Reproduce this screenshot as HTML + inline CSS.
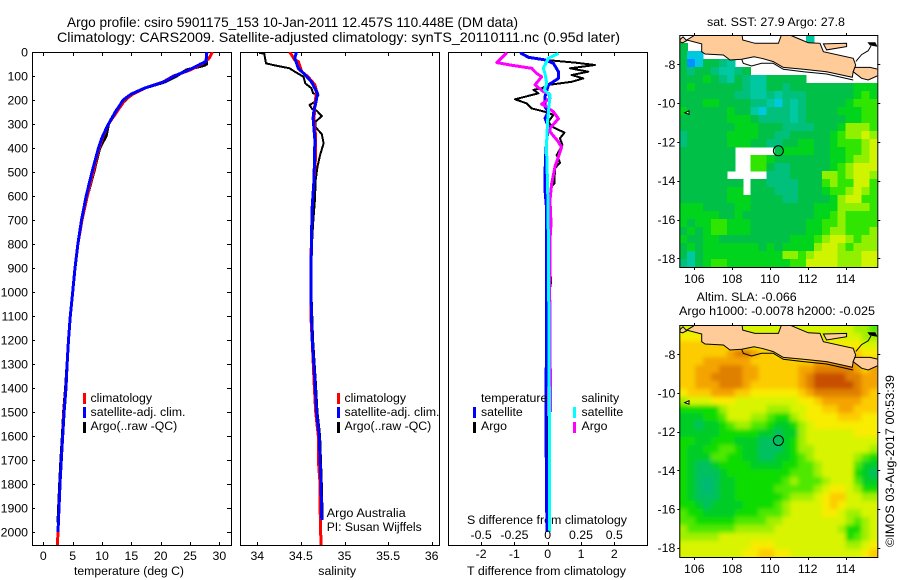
<!DOCTYPE html>
<html lang="en">
<head>
<meta charset="utf-8">
<title>Argo profile csiro 5901175_153</title>
<style>
html,body{margin:0;padding:0;background:#fff;width:900px;height:580px;overflow:hidden}
svg{display:block}
text{font-family:"Liberation Sans",sans-serif;font-size:12.3px;fill:#000}
</style>
</head>
<body>
<svg id="fig" xmlns="http://www.w3.org/2000/svg" width="900" height="580" viewBox="0 0 900 580">
  <defs>
    <filter id="smooth" x="-5%" y="-5%" width="110%" height="110%"><feGaussianBlur stdDeviation="2"/></filter>
  </defs>
  <rect x="0" y="0" width="900" height="580" fill="#fff"/>
  <text x="67" y="27" style="font-size:14px" textLength="451" lengthAdjust="spacingAndGlyphs">Argo profile: csiro 5901175_153 10-Jan-2011 12.457S 110.448E (DM data)</text>
  <text x="57" y="42" style="font-size:14px" textLength="563" lengthAdjust="spacingAndGlyphs">Climatology: CARS2009. Satellite-adjusted climatology: synTS_20110111.nc (0.95d later)</text>

  <text x="74" y="575" textLength="110" lengthAdjust="spacingAndGlyphs">temperature (deg C)</text>
  <text x="318.3" y="575" textLength="37.7" lengthAdjust="spacingAndGlyphs">salinity</text>
  <text x="467" y="575" textLength="159" lengthAdjust="spacingAndGlyphs">T difference from climatology</text>
  <text x="467" y="524" textLength="160" lengthAdjust="spacingAndGlyphs">S difference from climatology</text>

  <g id="panels"></g>
  <g id="maps"></g>

  <g>
    <rect x="83" y="393" width="3" height="11" fill="#f00"/>
    <rect x="83" y="407" width="3" height="11" fill="#00f"/>
    <rect x="83" y="422" width="3" height="11" fill="#000"/>
    <text x="90.5" y="402">climatology</text>
    <text x="90.5" y="416" textLength="95" lengthAdjust="spacingAndGlyphs">satellite-adj. clim.</text>
    <text x="90.5" y="430">Argo(..raw -QC)</text>
  </g>
  <g>
    <rect x="337" y="393" width="3" height="11" fill="#f00"/>
    <rect x="337" y="407" width="3" height="11" fill="#00f"/>
    <rect x="337" y="422" width="3" height="11" fill="#000"/>
    <text x="344.5" y="402">climatology</text>
    <text x="344.5" y="416" textLength="95" lengthAdjust="spacingAndGlyphs">satellite-adj. clim.</text>
    <text x="344.5" y="430">Argo(..raw -QC)</text>
    <text x="326.7" y="517" textLength="79" lengthAdjust="spacingAndGlyphs">Argo Australia</text>
    <text x="326.7" y="531" textLength="95" lengthAdjust="spacingAndGlyphs">PI: Susan Wijffels</text>
  </g>
  <g>
    <text x="481" y="402">temperature</text>
    <rect x="473" y="407" width="3" height="11" fill="#00f"/>
    <rect x="473" y="422" width="3" height="11" fill="#000"/>
    <text x="481" y="416">satellite</text>
    <text x="481" y="430">Argo</text>
    <text x="581.5" y="402">salinity</text>
    <rect x="573" y="407" width="3" height="11" fill="#0ff"/>
    <rect x="573" y="422" width="3" height="11" fill="#f0f"/>
    <text x="581.5" y="416">satellite</text>
    <text x="581.5" y="430">Argo</text>
  </g>

  <text x="707" y="26" textLength="138" lengthAdjust="spacingAndGlyphs">sat. SST: 27.9 Argo: 27.8</text>
  <text x="696.7" y="301" textLength="100" lengthAdjust="spacingAndGlyphs">Altim. SLA: -0.066</text>
  <text x="679" y="315" textLength="196" lengthAdjust="spacingAndGlyphs">Argo h1000: -0.0078 h2000: -0.025</text>
  <text transform="translate(894,547) rotate(-90)" textLength="172" lengthAdjust="spacingAndGlyphs">©IMOS 03-Aug-2017 00:53:39</text>
</svg>

<script>
/* ---------- profile data ---------- */
const stdDepth = [0,10,20,30,50,75,100,125,150,175,200,250,300,350,400,500,600,700,800,900,1000,1100,1200,1300,1400,1500,1600,1700,1800,1900,2000,2054];
const tempClim = [28.8,28.6,28.4,28.1,27.0,25.0,22.2,20.4,17.3,15.3,13.9,12.5,11.1,10.2,9.5,8.5,7.5,6.6,5.9,5.4,5.0,4.6,4.3,4.05,3.87,3.5,3.3,3.07,2.85,2.67,2.5,2.4];
const tempSatDepth = [0,10,20,40,50,75,100,125,150,175,200,250,300,350,400,500,600,700,800,900,1000,1100,1200,1300,1400,1500,1600,1700,1800,1900,2000];
const tempSat = [27.9,27.8,27.8,27.7,26.8,24.8,22.3,20.5,17.3,15.0,13.6,12.3,11.1,10.1,9.4,8.3,7.3,6.5,5.9,5.4,5.0,4.6,4.3,4.05,3.87,3.55,3.3,3.07,2.85,2.67,2.5];
const tempArgoDepth = [0,50,55,75,100,125,150,175,200,240,300,350,400,500,600,700,800,900,1000,1100,1200,1300,1400,1500,1600,1700,1800,1900,1960];
const tempArgo = [27.8,27.8,27.5,24.4,22.7,20.7,17.3,15.0,14.0,12.5,11.1,10.7,9.6,8.6,7.5,6.6,5.9,5.4,5.0,4.6,4.3,4.05,3.8,3.45,3.25,3.0,2.8,2.6,2.5];

const salClimDepth = [0,33,40,82,103,137,165,214,283,353,429,533,644,783,900,1100,1200,1367,1500,1600,1700,1800,1900,2054];
const salClim = [34.37,34.43,34.47,34.51,34.58,34.66,34.68,34.66,34.65,34.67,34.67,34.65,34.63,34.62,34.615,34.615,34.63,34.65,34.67,34.70,34.70,34.72,34.72,34.73];
const salSatDepth = [0,26,68,96,124,172,214,242,276,367,533,644,783,1000,1200,1367,1500,1600,1800,1950];
const salSat = [34.45,34.43,34.47,34.55,34.62,34.69,34.67,34.65,34.64,34.66,34.65,34.63,34.62,34.615,34.63,34.66,34.68,34.71,34.73,34.74];
const salArgoDepth = [3,8,47,54,68,82,103,131,151,172,179,207,221,238,244,267,290,314,342,381,429,478,533,617,714,783,900,1000,1200,1367,1500,1600,1800,1950];
const salArgo = [34.02,34.08,34.10,34.18,34.37,34.43,34.53,34.55,34.62,34.64,34.70,34.66,34.60,34.63,34.68,34.74,34.67,34.67,34.74,34.76,34.72,34.69,34.67,34.66,34.64,34.63,34.62,34.62,34.64,34.67,34.69,34.72,34.74,34.75];

const dtArgoDepth = [3,26,33,44,54,68,82,96,110,124,137,151,158,172,197,214,235,249,262,290,311,336,360,388,429,461,485,547,561,644,783,900,960,1000,1300,1370,1500,1520,1850,1950];
const dtArgo = [-0.83,-0.48,-0.08,0.82,1.42,0.67,1.22,0.72,1.07,0.72,0.02,-0.18,-0.43,-0.28,-0.98,-0.63,-0.48,-0.08,0.17,0.02,0.12,0.5,0.37,0.44,0.27,0.37,0.22,0.2,0.1,0.02,0,0.08,0.1,0.05,-0.02,-0.06,-0.06,-0.02,-0.03,-0.01];
const dtSatDepth = [3,22,33,47,82,110,137,186,228,249,276,311,367,429,506,575,644,783,1000,1500,1800,2000];
const dtSat = [-0.83,-0.58,-0.08,0.17,0.32,0.32,0.02,-0.08,-0.08,0.02,-0.08,0.02,-0.03,-0.06,-0.08,-0.08,-0.04,-0.03,-0.03,-0.05,-0.04,-0.02];
const dsArgoDepth = [3,44,54,68,89,103,137,165,172,193,217,228,249,278,318,332,374,381,396,478,547,617,714,783,1000,1400,1500];
const dsArgo = [-0.3075,-0.3825,-0.2825,-0.12,-0.0825,-0.045,-0.095,-0.0325,0.005,0.0175,-0.045,-0.0075,0.0425,0.08,0.0175,0.0175,0.08,0.085,0.105,0.055,0.03,0.0175,0.025,0.0175,0.015,0.02,0.02];
const dsSatDepth = [6,26,68,89,131,158,179,228,283,367,425,575,783,1000,1500,2000];
const dsSat = [0.08,0.005,-0.033,-0.02,-0.0075,-0.025,0.0175,0.01,0,-0.0075,-0.0075,0,0.005,0.0075,0.0125,0.0125];

const depthTicks = [0,100,200,300,400,500,600,700,800,900,1000,1100,1200,1300,1400,1500,1600,1700,1800,1900,2000];
const tempTicks = [0,5,10,15,20,25,30];
const salTicks = [34,34.5,35,35.5,36];
const dtTicks = [-2,-1,0,1,2];
const dsTicks = [-0.5,-0.25,0,0.25,0.5];
const lonTicks = [106,108,110,112,114];
const latTicks = [-8,-10,-12,-14,-16,-18];
const floatLon = 110.448;
const floatLat = -12.457;

/* ---------- map data: colour level per cell, north to south; _ = no data ---------- */
const _ = null;
const sstGrid = [
[_,_,_,_,_,_,_,_,_,_,_,_,_,_,_,_,2,_,_,_,_,_,_,_,_],
[4,_,_,_,_,_,_,_,_,_,_,_,_,_,_,_,_,_,_,_,_,_,_,_,_],
[4,1,1,_,_,_,_,_,_,_,_,_,_,_,_,_,_,_,_,_,_,_,_,_,_],
[4,0,1,4,4,3,2,_,_,_,_,_,_,_,_,_,_,_,_,_,_,_,_,_,_],
[4,3,4,4,3,2,2,3,4,_,_,_,_,_,_,_,_,_,_,_,_,_,_,_,_],
[4,4,4,5,4,3,2,4,3,2,2,4,4,4,4,4,_,_,_,_,_,_,_,_,_],
[4,5,4,4,4,4,4,4,3,2,2,4,4,3,4,4,4,4,4,4,4,4,5,5,5],
[4,4,4,4,4,4,4,3,3,2,2,3,2,3,3,3,4,4,4,4,4,4,5,6,5],
[4,4,4,5,5,4,4,4,4,3,3,2,1,3,2,3,4,4,4,4,4,5,6,6,6],
[5,4,4,4,4,4,5,4,4,2,1,3,3,3,2,3,4,4,4,4,5,5,5,6,6],
[4,4,4,4,4,4,5,5,5,4,3,3,3,3,2,3,4,4,4,4,4,5,5,6,6],
[4,4,4,4,4,4,4,5,5,5,4,4,4,3,3,3,3,4,4,4,5,7,7,7,6],
[3,4,4,4,4,4,5,5,5,5,4,4,3,3,4,4,4,4,4,5,6,7,7,8,7],
[3,4,4,4,4,4,5,5,5,4,4,3,3,4,4,5,5,4,4,5,6,6,6,7,8],
[4,4,4,4,4,4,4,_,_,_,_,_,4,5,5,5,5,4,4,5,5,6,6,7,8],
[4,4,4,4,4,4,4,_,_,6,6,5,4,4,4,4,4,4,4,5,5,6,7,7,8],
[4,4,4,4,4,4,4,_,_,6,6,4,3,3,4,4,4,4,4,5,6,7,8,8,8],
[4,4,4,4,4,4,_,_,_,_,_,3,3,3,4,4,4,4,7,7,6,7,8,8,7],
[4,4,4,4,4,4,4,4,_,4,4,3,3,3,3,4,4,4,6,7,6,6,8,8,6],
[4,4,4,4,4,4,5,5,_,4,4,4,3,3,3,4,4,4,5,6,6,7,8,7,6],
[4,4,4,4,4,4,5,5,5,4,4,4,4,3,3,4,4,4,4,5,7,8,8,6,6],
[5,5,5,4,4,4,4,5,5,4,4,4,4,4,4,4,4,5,5,5,7,7,7,7,6],
[5,5,5,5,5,4,4,5,4,4,4,4,4,4,4,4,4,5,5,6,7,6,6,6,6],
[5,4,5,5,6,6,5,5,5,4,4,4,4,4,4,4,5,5,6,6,7,6,6,6,6],
[4,5,4,5,6,6,5,5,5,4,4,4,4,4,4,4,5,5,6,7,7,6,6,6,7],
[5,4,4,5,5,4,4,4,4,4,4,4,4,4,5,5,5,6,7,8,8,7,6,7,7],
[4,5,4,5,5,5,5,5,5,5,4,5,4,5,5,5,5,7,8,8,7,6,7,7,7],
[4,2,4,5,5,5,5,5,5,5,5,5,5,7,7,6,7,8,8,8,7,7,7,8,8],
[3,2,4,5,6,6,5,5,5,5,5,5,5,5,6,6,8,8,8,8,7,7,7,8,8]
];
const slaGrid = [
[8,8,8,8,8,8,8,8,8,8,8,8,8,8,8,8,8,8,8,8,8,8,7,7,6],
[9,9,9,9,9,9,8,8,8,8,8,8,8,8,8,8,8,8,8,8,8,8,8,7,7],
[10,10,10,10,10,10,9,9,9,9,9,9,9,9,9,9,9,9,9,9,9,9,9,8,8],
[10,10,10,10,10,10,11,12,12,11,10,10,9,9,9,9,10,10,10,10,10,10,10,9,9],
[10,10,10,11,11,11,11,11,11,10,10,10,10,10,10,10,10,11,11,11,11,11,11,10,10],
[10,10,11,11,11,12,12,12,11,11,10,10,10,10,10,11,11,12,12,12,12,12,11,10,11],
[10,10,11,11,12,12,12,12,11,11,10,10,10,10,10,11,12,13,13,13,13,12,12,11,11],
[10,10,11,11,11,12,12,12,11,10,10,10,10,10,10,11,12,13,13,13,13,13,12,11,11],
[9,10,10,10,11,11,11,10,10,9,9,9,9,9,9,10,11,12,12,12,12,12,12,11,10],
[7,8,8,8,9,9,9,8,8,8,8,8,8,8,8,9,9,10,11,11,11,11,11,10,10],
[5,5,5,5,5,7,8,8,8,8,8,7,7,7,8,8,9,9,10,10,11,11,10,10,10],
[4,4,4,5,5,6,8,8,8,7,7,6,5,5,7,8,9,9,9,9,10,10,10,9,9],
[4,4,3,4,4,5,6,7,7,6,6,5,4,4,5,7,8,9,9,9,9,9,9,9,9],
[4,4,4,4,4,5,5,5,5,5,4,4,3,4,4,7,8,8,8,8,8,8,9,9,9],
[5,5,4,4,5,5,5,4,4,4,3,3,3,4,5,7,8,8,8,8,8,8,8,8,8],
[5,4,4,5,5,6,6,5,4,4,3,3,3,4,5,7,7,8,8,8,8,8,8,8,7],
[5,4,4,4,6,6,5,5,4,4,3,3,4,4,5,6,7,8,8,8,8,8,7,6,5],
[5,4,3,3,4,5,5,5,5,4,4,4,4,5,5,6,6,7,8,8,8,8,6,4,4],
[5,4,3,3,3,4,5,5,5,5,5,5,5,5,6,6,6,7,8,8,8,8,5,4,3],
[5,4,3,2,3,4,4,5,5,5,5,5,5,6,7,6,6,6,7,8,8,8,6,4,4],
[5,4,3,2,3,4,4,5,5,5,5,5,6,6,6,6,6,7,8,9,9,8,7,5,5],
[5,4,3,3,3,4,4,5,5,5,5,5,5,6,7,7,7,8,9,10,10,8,8,7,7],
[5,5,4,3,4,4,4,4,5,5,5,5,6,7,8,8,8,8,9,10,9,8,8,8,8],
[6,5,5,4,4,4,4,5,5,5,6,6,6,7,8,8,8,8,9,9,8,7,7,8,8],
[6,6,5,5,5,5,5,6,6,6,6,7,7,8,8,8,8,8,8,8,8,7,6,7,8],
[7,6,6,6,6,6,6,7,7,7,7,7,8,8,8,8,8,8,8,8,7,5,5,7,8],
[7,7,7,7,7,8,8,8,8,8,8,8,8,8,8,8,8,8,8,8,8,5,6,7,8],
[8,8,8,8,8,8,8,8,8,9,9,9,8,8,8,8,8,8,8,8,8,7,7,8,9],
[8,8,8,8,8,8,8,8,9,9,10,10,9,9,8,8,8,8,8,8,8,8,8,9,10]
];
const javaLon = [105.60,105.95,106.04,108.51,108.56,109.21,110.45,110.68,111.06,111.68,112.03,112.65,112.83,114.41,114.54,114.41,114.36,113.0,111.77,110.71,110.18,109.56,109.16,108.51,107.89,107.54,106.57,106.39,106.39];
const javaLat = [-6.75,-6.54,-6.3,-6.3,-6.75,-6.92,-6.92,-6.3,-6.49,-6.75,-6.89,-6.92,-7.35,-7.69,-8.04,-8.38,-8.67,-8.38,-8.26,-8.16,-7.86,-7.69,-7.61,-7.74,-7.78,-7.52,-7.47,-7.35,-6.95];
const baliLon = [114.50,115.3,115.9,115.9,115.2,114.85,114.41];
const baliLat = [-8.16,-8.16,-8.3,-8.5,-8.81,-8.72,-8.38];
const maduraLon = [112.83,114.06,114.06,113.0];
const maduraLat = [-6.95,-6.92,-7.09,-7.26];
const shelfLon = [108.51,108.59,109.03,109.56,110.18,110.71,111.77,113.0,114.41];
const shelfLat = [-7.74,-7.95,-8.09,-7.95,-7.95,-8.26,-8.38,-8.50,-8.81];
const eastCoastLon = [114.55,114.85,115.2,115.35];
const eastCoastLat = [-7.85,-7.5,-7.3,-7.05];
const islandLon = [105.5,105.72,105.72];
const islandLat = [-10.5,-10.4,-10.58];
const nwCoastLon = [105.25,105.4,105.6,105.38,105.25];
const nwCoastLat = [-6.72,-6.58,-6.78,-6.89,-6.85];
const neIslandLon = [115.21,115.56,115.65,115.3];
const neIslandLat = [-6.89,-6.89,-7.06,-7.0];

const sstColors = ['#0090ff','#00c8e0','#00c8a0','#00c07c','#00c048','#00d41c','#30e600','#90f000','#d0f400','#f0f000','#fcd000','#f4a800','#e08400','#cc5400'];
const slaColors = ['#0090ff','#00c8e0','#00b878','#00c060','#00cc28','#10dc00','#50e800','#a0f000','#d8f400','#f8ec00','#fccc00','#f4a400','#e08000','#c85000'];

/* ---------- helpers ---------- */
const NS = 'http://www.w3.org/2000/svg';
function mk(parent, tag, props, name) {
  const el = document.createElementNS(NS, tag);
  for (const k in props) el.setAttribute(k, props[k]);
  
  
  parent.appendChild(el);
  return el;
}
function label(parent, x, y, str, anchor, name) {
  const el = mk(parent, 'text', {x: x, y: y, 'text-anchor': anchor}, name);
  el.textContent = str;
  return el;
}
function pathOf(xs, ys, fx, fy) {
  return xs.map((v, i) => (i ? 'L' : 'M') + fx(v).toFixed(1) + ' ' + fy(ys[i]).toFixed(1)).join('');
}

/* ---------- profile panels ---------- */
const TOP = 52, BOTTOM = 545;
const yDepth = d => TOP + d * 0.24;
const xTemp = t => 43.3 + 5.87 * t;
const xSal = s => 257.3 + 87.2 * (s - 34);
const xDT = t => 547.7 + 33.3 * t;
const xDS = s => 547.7 + 133.2 * s;
const panels = document.getElementById('panels');

function series(parent, depth, vals, fx, color, width, name, clip) {
  const el = mk(parent, 'path', {
    d: pathOf(vals, depth, fx, yDepth), fill: 'none', stroke: color,
    'stroke-width': width, 'stroke-linejoin': 'round',
    'shape-rendering': 'crispEdges',
    'clip-path': 'url(#' + clip + ')'
  }, name);
  return el;
}
function frame(parent, x0, x1, clipId, name) {
  const defs = mk(parent, 'defs', {}, name + '-defs');
  const cp = mk(defs, 'clipPath', {id: clipId}, name + '-clip');
  mk(cp, 'rect', {x: x0, y: TOP, width: x1 - x0, height: BOTTOM - TOP}, name + '-clip-rect');
  return mk(parent, 'rect', {x: x0 + .5, y: TOP + .5, width: x1 - x0, height: BOTTOM - TOP, fill: 'none', stroke: '#000', 'stroke-width': 1}, name + '-frame');
}
function vTick(parent, x, name) {
  const px = Math.round(x) + .5;
  mk(parent, 'line', {x1: px, x2: px, y1: TOP, y2: TOP + 4, stroke: '#000'}, name + '-top');
  mk(parent, 'line', {x1: px, x2: px, y1: BOTTOM, y2: BOTTOM - 3, stroke: '#000'}, name + '-bottom');
}

/* temperature */
const p1 = mk(panels, 'g', {}, 'temperature-panel');
frame(p1, 32, 231, 'clipT', 'temperature-panel');
series(p1, tempArgoDepth, tempArgo, xTemp, '#000', 3, 'temperature-argo-line', 'clipT');
series(p1, stdDepth, tempClim, xTemp, '#f00', 3, 'temperature-climatology-line', 'clipT');
series(p1, tempSatDepth, tempSat, xTemp, '#00f', 3, 'temperature-satellite-line', 'clipT');
tempTicks.forEach(t => {
  vTick(p1, xTemp(t), 'temperature-tick');
  label(p1, xTemp(t), 560, String(t), 'middle', 'temperature-tick-label');
});
depthTicks.forEach(d => {
  const py = Math.round(yDepth(d)) + .5;
  mk(p1, 'line', {x1: 32, x2: 35, y1: py, y2: py, stroke: '#000'}, 'depth-tick-left');
  mk(p1, 'line', {x1: 231, x2: 227, y1: py, y2: py, stroke: '#000'}, 'depth-tick-right');
  label(p1, 28, yDepth(d) + 4.5, String(d), 'end', 'depth-tick-label');
});

/* salinity */
const p2 = mk(panels, 'g', {}, 'salinity-panel');
frame(p2, 240, 439, 'clipS', 'salinity-panel');
series(p2, salArgoDepth, salArgo, xSal, '#000', 2, 'salinity-argo-line', 'clipS');
series(p2, salClimDepth, salClim, xSal, '#f00', 3, 'salinity-climatology-line', 'clipS');
series(p2, salSatDepth, salSat, xSal, '#00f', 3, 'salinity-satellite-line', 'clipS');
salTicks.forEach(s => {
  vTick(p2, xSal(s), 'salinity-tick');
  label(p2, xSal(s), 560, String(s), 'middle', 'salinity-tick-label');
});

/* differences */
const p3 = mk(panels, 'g', {}, 'difference-panel');
frame(p3, 448, 647, 'clipD', 'difference-panel');
series(p3, dtArgoDepth, dtArgo, xDT, '#000', 2, 't-difference-argo-line', 'clipD');
series(p3, dtSatDepth, dtSat, xDT, '#00f', 3, 't-difference-satellite-line', 'clipD');
series(p3, dsArgoDepth, dsArgo, xDS, '#f0f', 3, 's-difference-argo-line', 'clipD');
series(p3, dsSatDepth, dsSat, xDS, '#0ff', 3, 's-difference-satellite-line', 'clipD');
dtTicks.forEach(t => {
  vTick(p3, xDT(t), 't-difference-tick');
  label(p3, xDT(t), 558, String(t), 'middle', 't-difference-tick-label');
});
dsTicks.forEach(s => {
  label(p3, xDS(s), 539, String(s), 'middle', 's-difference-tick-label');
});

/* ---------- maps ---------- */
const maps = document.getElementById('maps');
function drawMap(grid, colors, x0, y0, lat8Y, lat18Y, prefix, clipId, smooth) {
  const W = 198, H = 232;
  const g = mk(maps, 'g', {}, prefix + '-map');
  const xLon = lon => 694.3 + 18.9 * (lon - 106);
  const yLat = lat => lat8Y + (lat18Y - lat8Y) * (lat + 8) / -10;
  const defs = mk(g, 'defs', {}, prefix + '-map-defs');
  const cp = mk(defs, 'clipPath', {id: clipId}, prefix + '-map-clip');
  mk(cp, 'rect', {x: x0, y: y0, width: W, height: H}, prefix + '-map-clip-rect');

  const nc = grid[0].length, nr = grid.length;
  const cw = W / nc, ch = H / nr;
  const clipped = mk(g, 'g', {'clip-path': 'url(#' + clipId + ')'}, prefix + '-heatmap-area');
  const cells = mk(clipped, 'g', smooth ? {filter: 'url(#smooth)'} : {'shape-rendering': 'crispEdges'}, prefix + '-heatmap');
  grid.forEach((row, r) => row.forEach((v, c) => {
    if (v === null) return;
    const pad = smooth ? 10 : 0;
    const left = c === 0 ? pad : 0, right = c === nc - 1 ? pad : 0;
    const up = r === 0 ? pad : 0, down = r === nr - 1 ? pad : 0;
    mk(cells, 'rect', {
      x: (x0 + c * cw - left).toFixed(2), y: (y0 + r * ch - up).toFixed(2),
      width: (cw + .6 + left + right).toFixed(2), height: (ch + .6 + up + down).toFixed(2),
      fill: colors[v]
    }, prefix + '-cell');
  }));

  const land = mk(g, 'g', {'clip-path': 'url(#' + clipId + ')'}, prefix + '-coastline');
  function poly(lons, lats, fill, name) {
    mk(land, 'polygon', {
      points: lons.map((v, i) => xLon(v).toFixed(1) + ',' + yLat(lats[i]).toFixed(1)).join(' '),
      fill: fill, stroke: '#000', 'stroke-width': 1
    }, name);
  }
  poly(nwCoastLon, nwCoastLat, '#ffcc99', prefix + '-west-coast');
  poly(javaLon, javaLat, '#ffcc99', prefix + '-java');
  poly(maduraLon, maduraLat, '#ffcc99', prefix + '-madura');
  poly(baliLon, baliLat, '#ffcc99', prefix + '-bali');
  poly(neIslandLon, neIslandLat, '#000', prefix + '-northeast-island');
  poly(islandLon, islandLat, '#fff', prefix + '-small-island');
  mk(land, 'path', {d: pathOf(shelfLon, shelfLat, xLon, yLat), fill: 'none', stroke: '#000', 'stroke-width': 1}, prefix + '-offshore-contour');
  mk(land, 'path', {d: pathOf(eastCoastLon, eastCoastLat, xLon, yLat), fill: 'none', stroke: '#000', 'stroke-width': 1}, prefix + '-east-coast');

  mk(g, 'circle', {cx: xLon(floatLon), cy: yLat(floatLat), r: 5, fill: 'none', stroke: '#000', 'stroke-width': 1}, prefix + '-float-marker');
  mk(g, 'rect', {x: x0 + .5, y: y0 + .5, width: W, height: H, fill: 'none', stroke: '#000', 'stroke-width': 1}, prefix + '-map-frame');

  lonTicks.forEach(lon => {
    const px = Math.round(xLon(lon)) + .5;
    mk(g, 'line', {x1: px, x2: px, y1: y0 - 2, y2: y0, stroke: '#000'}, prefix + '-lon-tick-top');
    mk(g, 'line', {x1: px, x2: px, y1: y0 + H, y2: y0 + H + 3, stroke: '#000'}, prefix + '-lon-tick-bottom');
    label(g, xLon(lon), y0 + H + 16, String(lon), 'middle', prefix + '-lon-label');
  });
  latTicks.forEach(lat => {
    const py = Math.round(yLat(lat)) + .5;
    mk(g, 'line', {x1: x0 - 2, x2: x0, y1: py, y2: py, stroke: '#000'}, prefix + '-lat-tick-left');
    mk(g, 'line', {x1: x0 + W, x2: x0 + W + 3, y1: py, y2: py, stroke: '#000'}, prefix + '-lat-tick-right');
    label(g, x0 - 4, yLat(lat) + 4.5, String(lat), 'end', prefix + '-lat-label');
  });
}
drawMap(sstGrid, sstColors, 679.3, 35, 64.3, 258.3, 'sst', 'clipSst', false);
drawMap(slaGrid, slaColors, 679.3, 325, 354.3, 547.7, 'sla', 'clipSla', true);
</script>
</body>
</html>
